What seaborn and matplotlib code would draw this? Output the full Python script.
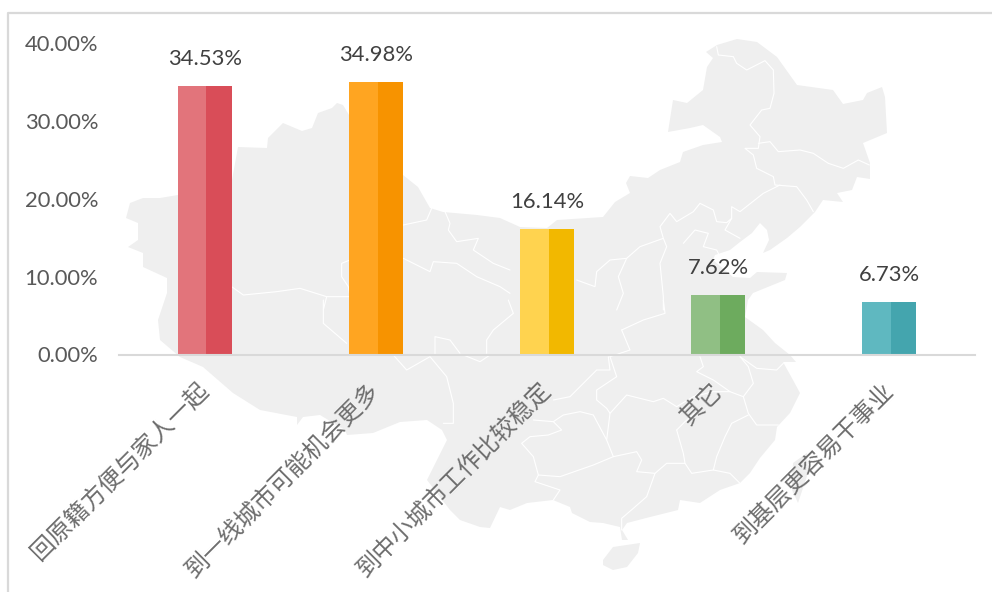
import matplotlib
matplotlib.use("Agg")
import matplotlib.pyplot as plt
import numpy as np
import pandas as pd
import seaborn as sns

categories = ["回原籍方便与家人一起", "到一线城市可能机会更多", "到中小城市工作比较稳定", "其它", "到基层更容易干事业"]
values = [34.53, 34.98, 16.14, 7.62, 6.73]
value_labels = ["34.53%", "34.98%", "16.14%", "7.62%", "6.73%"]
light_colors = ["#E2747B", "#FFA521", "#FFD34F", "#90BF84", "#5FB8C0"]
dark_colors = ["#D94D58", "#F79300", "#F2B800", "#6DAB5E", "#44A5AE"]
y_ticks = [0, 10, 20, 30, 40]

# background map, traced in pixels of the picture
china = [(126,218),(130,203),(143,198),(160,198),(178,195),(232,180),(238,147),(267,148),(268,138),(283,123),
    (302,131),(312,128),(318,113),(332,108),(337,103),(343,105),(349,115),(375,145),(403,175),(418,187),(430,208),
    (443,212),(477,215),(500,218),(520,227),(547,228),(557,220),(603,217),(615,202),(630,193),(626,183),(630,176),
    (648,178),(660,170),(680,162),(683,152),(703,145),(722,142),(720,137),(703,125),(690,128),(668,132),(673,100),
    (687,103),(703,90),(707,67),(713,58),(706,52),(717,45),(737,39),(757,42),(777,57),(797,85),(833,90),(843,104),
    (863,100),(867,93),(882,87),(885,97),(887,133),(863,143),(870,163),(870,179),(857,177),(852,190),(837,193),
    (843,202),(823,200),(815,212),(800,227),(787,238),(770,250),(763,253),(769,240),(767,230),(760,223),(752,233),
    (740,242),(730,250),(715,255),(713,260),(733,277),(750,278),(757,272),(787,273),(785,280),(753,293),(748,300),
    (745,317),(763,330),(775,343),(790,355),(796,362),(783,362),(793,380),(800,393),(790,413),(777,427),(775,440),
    (760,458),(750,473),(740,483),(720,490),(700,503),(680,500),(678,510),(650,517),(627,523),(622,530),(628,540),
    (622,540),(620,527),(603,523),(590,522),(572,513),(570,507),(553,500),(527,503),(510,510),(500,507),(490,528),
    (480,527),(460,520),(450,510),(427,480),(447,440),(442,430),(427,420),(400,422),(373,433),(347,435),(345,430),
    (320,415),(303,417),(297,425),(297,417),(260,410),(233,393),(203,367),(180,357),(160,340),(158,320),(167,293),
    (167,278),(143,267),(143,253),(128,247),(138,240),(138,223)]
hainan = [(603,560),(613,547),(640,543),(638,553),(627,567),(613,570),(603,565)]
taiwan = [(793,463),(807,453),(808,473),(798,503),(792,490)]


def zoomed(points, x0, y0):
    return [(x0 + x / 3, y0 + y / 3) for x, y in points]


borders = [zoomed(p, 500, 30) for p in [
    [(650,50),(655,75),(700,80),(710,100),(740,120),(795,92),(820,120),(822,190),(810,235),(785,240),(750,285),(780,320),
     (775,355),(735,355),(760,375),(770,415),(820,440),(825,465),(890,470),(920,510),(940,545)],
    [(775,340),(810,335),(835,365),(900,360),(940,370),(985,400),(1030,415),(1075,390),(1108,405)],
    [(840,465),(790,490),(720,545),(695,530),(695,565),(675,600),(720,625)],
    [(695,565),(680,578),(650,575),(640,540),(600,520),(580,545),(530,575),(510,550),(480,590),(490,625),(420,650),
     (380,685),(330,690),(290,725),(285,770),(230,750)],
    [(490,625),(500,650),(480,700),(490,800),(490,840)],
    [(380,685),(355,740),(370,790),(350,840)],
    [(550,640),(585,600),(625,610),(610,650),(650,660),(660,680)],
]] + [zoomed(p, 500, 300) for p in [
    [(720,170),(770,205),(830,210),(850,190)],
    [(600,170),(610,200),(590,215),(640,240),(690,275),(730,290),(760,250),(745,200),(720,170)],
    [(330,170),(350,230),(290,270),(290,300),(320,325),(330,340),(380,285),(460,305),(490,295),(530,320),(580,290),(640,275),(690,275)],
    [(730,290),(745,340),(770,375),(835,375)],
    [(745,345),(695,370),(675,410),(650,470),(640,510),(690,520),(720,550)],
    [(530,390),(550,460),(555,490),(575,520),(640,510)],
    [(530,390),(580,340)],
    [(330,340),(320,420),(340,470),(410,455),(425,480),(410,515),(465,520),(500,490),(555,490)],
    [(465,520),(440,590),(400,625),(365,655),(365,690)],
    [(340,470),(280,495),(180,530),(115,525),(105,545),(180,570),(160,600)],
    [(115,525),(100,470),(65,430),(90,410),(145,405),(185,390),(160,365),(100,360)],
    [(160,365),(190,345),(240,335),(280,345),(320,420)],
    [(160,300),(210,290),(290,210),(330,210),(325,170)],
    [(365,90),(430,60),(495,40),(490,0)],
    [(365,90),(390,150),(330,170)],
]] + [zoomed(p, 110, 30) for p in [
    [(365,770),(400,795),(500,785),(570,775),(650,800),(720,800),(715,770),(695,740),(695,700),(720,690)],
    [(880,585),(950,570),(965,535)],
    [(880,685),(960,725),(970,695),(1040,700),(1100,740),(1170,770),(1200,790)],
    [(1005,545),(1020,580),(1015,600),(1040,635),(1105,625),(1090,660),(1150,700),(1200,720)],
    [(650,800),(640,840)],
]] + [zoomed(p, 160, 300) for p in [
    [(490,0),(490,70),(560,130)],
    [(700,165),(740,210),(810,170),(860,230),(880,310),(880,370),(850,370)],
    [(825,165),(825,110),(870,120),(900,160)],
    [(980,160),(980,120),(1000,90),(1060,40),(1045,0)],
    [(910,165),(960,185),(990,165)],
]]

sns.set_theme(style="white")
plt.rcParams["font.family"] = ["Lato", "Noto Sans CJK SC", "DejaVu Sans"]

W, H = 992, 592
fig = plt.figure(figsize=(W / 100, H / 100), dpi=100, facecolor="white")

bg = fig.add_axes([0, 0, 1, 1], zorder=0)
bg.set_xlim(0, W)
bg.set_ylim(H, 0)
bg.axis("off")
for shape in [china, hainan, taiwan]:
    xs, ys = zip(*shape)
    bg.fill(xs, ys, color="#EFEFEF", lw=0)
for line in borders:
    xs, ys = zip(*line)
    bg.plot(xs, ys, color="white", lw=0.8, solid_joinstyle="round")
# outer frame of the slide
bg.plot([8, 8, W], [H, 13, 13], color="#D9D9D9", lw=1.6)

left, right, bottom, top = 119, 975, 354.5, 354.5 - 40 * 7.79
ax = fig.add_axes([left / W, 1 - bottom / H, (right - left) / W, (bottom - top) / H], zorder=1)
ax.patch.set_alpha(0)

df = pd.DataFrame({
    "category": categories * 2,
    "value": values * 2,
    "side": ["light"] * len(values) + ["dark"] * len(values),
})
sns.barplot(data=df, x="category", y="value", hue="side", hue_order=["light", "dark"], order=categories,
            width=0.315, gap=0, legend=False, ax=ax, saturation=1, linewidth=0)

n = len(values)
for i, p in enumerate(ax.patches[:2 * n]):
    w = p.get_width()
    if i < n:
        p.set_facecolor(light_colors[i])
        p.set_width(w * 1.07)
    else:
        p.set_facecolor(dark_colors[i - n])
        p.set_x(p.get_x() + w * 0.07)
        p.set_width(w * 0.93)
    p.set_linewidth(0)

for i, (v, label) in enumerate(zip(values, value_labels)):
    ax.annotate(label, (i, v), xytext=(0, 12), textcoords="offset points", ha="center", va="bottom",
                fontsize=15.8, color="#404040")

ax.set_xlim(-0.5, n - 0.5)
ax.set_ylim(0, 40)
ax.set_yticks(y_ticks)
ax.set_yticklabels([f"{t:.2f}%" for t in y_ticks], fontsize=15.8, color="#595959")
ax.set_xlabel("")
ax.set_ylabel("")
ax.tick_params(axis="y", length=0, pad=15)
ax.tick_params(axis="x", length=0, pad=23)
ax.set_xticks(range(n))
ax.set_xticklabels(categories, rotation=45, ha="right", va="center", rotation_mode="anchor",
                   fontsize=17.3, color="#6E6E6E", fontweight="light",
                   family=["Noto Sans CJK SC", "DejaVu Sans"])
sns.despine(ax=ax, left=True, top=True, right=True)
ax.spines["bottom"].set_color("#D9D9D9")
ax.spines["bottom"].set_linewidth(1.5)

fig.savefig("out.png", dpi=100)
